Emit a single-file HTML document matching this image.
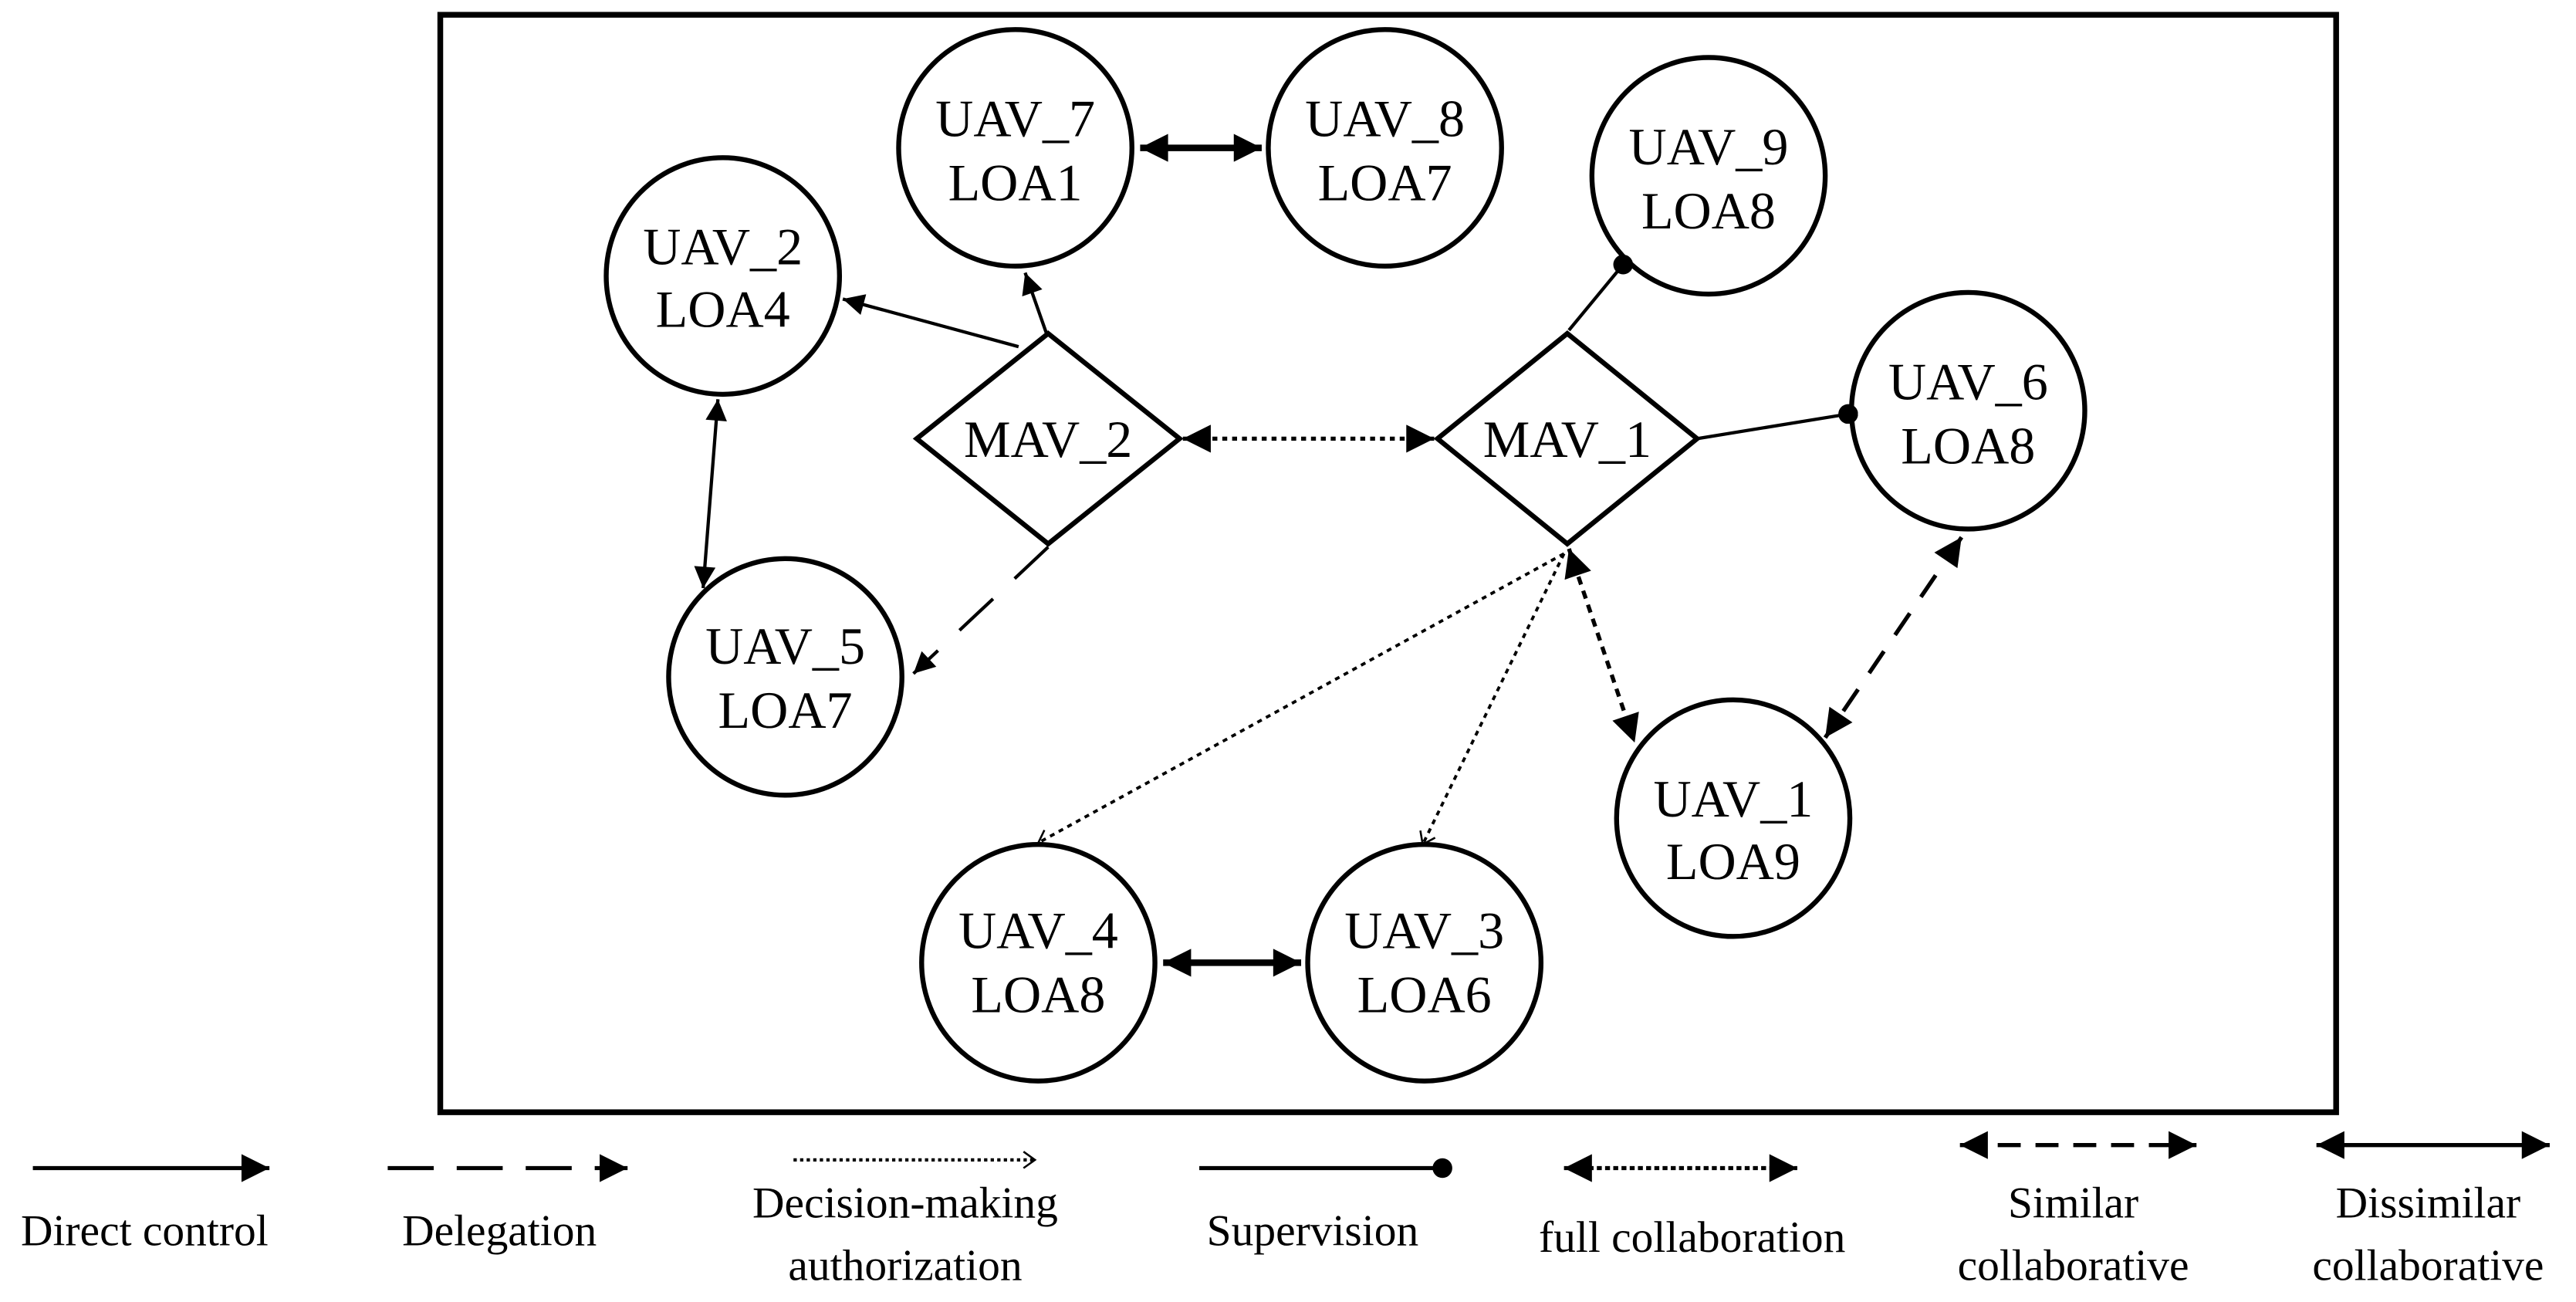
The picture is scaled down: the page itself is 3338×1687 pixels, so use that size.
<!DOCTYPE html>
<html><head><meta charset="utf-8"><style>
html,body{margin:0;padding:0;background:#fff;}
svg{display:block;}
text{font-family:"Liberation Serif",serif;fill:#000;}
</style></head><body>
<svg width="3338" height="1687" viewBox="0 0 1568 792.5" preserveAspectRatio="none" xmlns="http://www.w3.org/2000/svg">
<defs>
<marker id="a" viewBox="0 0 10 10" refX="10" refY="5" markerWidth="15" markerHeight="13" markerUnits="userSpaceOnUse" orient="auto-start-reverse"><path d="M0,0 L10,5 L0,10 z"/></marker>
<marker id="b" viewBox="0 0 10 10" refX="10" refY="5" markerWidth="20" markerHeight="17" markerUnits="userSpaceOnUse" orient="auto-start-reverse"><path d="M0,0 L10,5 L0,10 z"/></marker>
<marker id="o" viewBox="0 0 10 10" refX="9" refY="5" markerWidth="10" markerHeight="14" markerUnits="userSpaceOnUse" orient="auto"><path d="M2,0 L9,5 L2,10" fill="none" stroke="#000" stroke-width="1.2"/></marker>
<marker id="d" viewBox="0 0 10 10" refX="5" refY="5" markerWidth="12" markerHeight="12" markerUnits="userSpaceOnUse"><circle cx="5" cy="5" r="5"/></marker>
</defs>
<rect x="268" y="9" width="1154" height="668" fill="none" stroke="#000" stroke-width="3.5"/>
<g fill="#fff" stroke="#000" stroke-width="3">
<ellipse cx="618" cy="90" rx="71" ry="72"/>
<ellipse cx="843" cy="90" rx="71" ry="72"/>
<ellipse cx="1040" cy="107" rx="71" ry="72"/>
<ellipse cx="440" cy="168" rx="71" ry="72"/>
<ellipse cx="1198" cy="250" rx="71" ry="72"/>
<ellipse cx="478" cy="412" rx="71" ry="72"/>
<ellipse cx="1055" cy="498" rx="71" ry="72"/>
<ellipse cx="632" cy="586" rx="71" ry="72"/>
<ellipse cx="867" cy="586" rx="71" ry="72"/>
<path d="M638,203 L718,267 L638,331 L558,267 Z"/>
<path d="M954,203 L1033,267 L954,331 L875,267 Z"/>
</g>
<g fill="none" stroke="#000">
<line x1="620" y1="211" x2="513" y2="182" stroke-width="2" marker-end="url(#a)"/>
<line x1="637" y1="203" x2="624" y2="166" stroke-width="2" marker-end="url(#a)"/>
<line x1="694" y1="90" x2="768" y2="90" stroke-width="4" marker-start="url(#b)" marker-end="url(#b)"/>
<line x1="437" y1="243" x2="428" y2="358" stroke-width="2" marker-start="url(#a)" marker-end="url(#a)"/>
<line x1="638" y1="333" x2="556" y2="410" stroke-width="2" stroke-dasharray="28,18" marker-end="url(#a)"/>
<line x1="720" y1="267" x2="873" y2="267" stroke-width="2.5" stroke-dasharray="3,3" marker-start="url(#b)" marker-end="url(#b)"/>
<line x1="955" y1="201" x2="988" y2="161" stroke-width="2" marker-end="url(#d)"/>
<line x1="1033" y1="267" x2="1125" y2="252" stroke-width="2" marker-end="url(#d)"/>
<line x1="955" y1="334" x2="995" y2="452" stroke-width="2.5" stroke-dasharray="5,4" marker-start="url(#b)" marker-end="url(#b)"/>
<line x1="1194" y1="327" x2="1111" y2="449" stroke-width="2.5" stroke-dasharray="16,12" marker-start="url(#b)" marker-end="url(#b)"/>
<line x1="952" y1="337" x2="632" y2="513" stroke-width="1.8" stroke-dasharray="3,3" marker-end="url(#o)"/>
<line x1="952" y1="337" x2="866" y2="514" stroke-width="1.8" stroke-dasharray="3,3" marker-end="url(#o)"/>
<line x1="708" y1="586" x2="792" y2="586" stroke-width="4" marker-start="url(#b)" marker-end="url(#b)"/>
<line x1="20" y1="711" x2="164" y2="711" stroke-width="2.5" marker-end="url(#b)"/>
<line x1="236" y1="711" x2="382" y2="711" stroke-width="2.5" stroke-dasharray="28,14" marker-end="url(#b)"/>
<line x1="483" y1="706" x2="630" y2="706" stroke-width="2" stroke-dasharray="2,2" marker-end="url(#o)"/>
<line x1="730" y1="711" x2="878" y2="711" stroke-width="2.5" marker-end="url(#d)"/>
<line x1="952" y1="711" x2="1094" y2="711" stroke-width="2.5" stroke-dasharray="3,2" marker-start="url(#b)" marker-end="url(#b)"/>
<line x1="1193" y1="697" x2="1337" y2="697" stroke-width="2.5" stroke-dasharray="14,9" marker-start="url(#b)" marker-end="url(#b)"/>
<line x1="1410" y1="697" x2="1552" y2="697" stroke-width="2.5" marker-start="url(#b)" marker-end="url(#b)"/>
</g>
<g font-size="32" text-anchor="middle">
<text x="618" y="83">UAV_7</text><text x="618" y="122">LOA1</text>
<text x="843" y="83">UAV_8</text><text x="843" y="122">LOA7</text>
<text x="1040" y="100">UAV_9</text><text x="1040" y="139">LOA8</text>
<text x="440" y="161">UAV_2</text><text x="440" y="199">LOA4</text>
<text x="1198" y="243">UAV_6</text><text x="1198" y="282">LOA8</text>
<text x="478" y="404">UAV_5</text><text x="478" y="443">LOA7</text>
<text x="1055" y="497">UAV_1</text><text x="1055" y="535">LOA9</text>
<text x="632" y="577">UAV_4</text><text x="632" y="616">LOA8</text>
<text x="867" y="577">UAV_3</text><text x="867" y="616">LOA6</text>
<text x="638" y="278">MAV_2</text>
<text x="954" y="278">MAV_1</text>
</g>
<g font-size="27" text-anchor="middle">
<text x="88" y="758">Direct control</text>
<text x="304" y="758">Delegation</text>
<text x="551" y="741">Decision-making</text>
<text x="551" y="779">authorization</text>
<text x="799" y="758">Supervision</text>
<text x="1030" y="762">full collaboration</text>
<text x="1262" y="741">Similar</text>
<text x="1262" y="779">collaborative</text>
<text x="1478" y="741">Dissimilar</text>
<text x="1478" y="779">collaborative</text>
</g>
</svg>
</body></html>
